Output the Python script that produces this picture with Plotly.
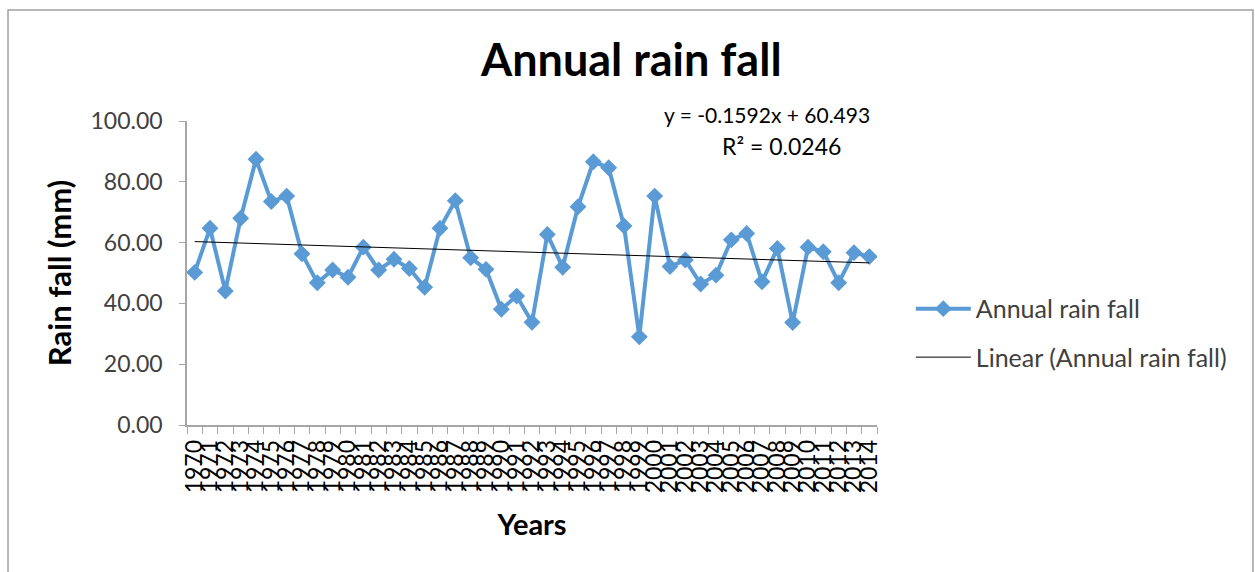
import plotly.graph_objects as go

# Annual rainfall record, 1970-2014
years = [str(y) for y in range(1970, 2015)]
rain_mm = [
    50.2, 64.7, 44.1, 68.0, 87.4, 73.5, 75.3, 56.3, 46.8, 51.0,
    48.6, 58.5, 51.0, 54.5, 51.5, 45.3, 64.7, 73.8, 55.0, 51.2,
    38.1, 42.4, 33.8, 62.7, 51.9, 71.8, 86.6, 84.6, 65.5, 29.0,
    75.3, 52.1, 54.3, 46.4, 49.3, 60.9, 63.0, 47.1, 58.1, 33.7,
    58.5, 57.0, 46.8, 56.7, 55.4,
]

# Linear trend as stated on the chart (x = 1 .. n)
slope = -0.1592
intercept = 60.493
r_squared = 0.0246
trend = [slope * (i + 1) + intercept for i in range(len(years))]

y_ticks = [0, 20, 40, 60, 80, 100]

FONT = "Lato"
BLUE = "#5B9BD5"
GREY_TEXT = "#404040"
AXIS_GREY = "#A6A6A6"

fig = go.Figure()

fig.add_trace(go.Scatter(
    x=years, y=rain_mm, name="Annual rain fall",
    mode="lines+markers",
    line=dict(color=BLUE, width=4),
    marker=dict(symbol="diamond", size=13, color=BLUE),
    legendgroup="a",
))

fig.add_trace(go.Scatter(
    x=years, y=trend, name="Linear (Annual rain fall)",
    mode="lines",
    line=dict(color="#000000", width=1),
    legendgroup="b",
))

fig.update_layout(
    width=1255, height=572,
    margin=dict(l=187, r=378, t=121, b=147),
    paper_bgcolor="white", plot_bgcolor="white",
    font=dict(family=FONT, color=GREY_TEXT, size=23),
    title=dict(
        text="<b>Annual rain fall</b>",
        font=dict(family=FONT, size=45, color="#000000"),
        x=0.503, xanchor="center", y=0.895, yanchor="middle",
    ),
    showlegend=True,
    legend=dict(
        x=1.049, xanchor="left", y=0.303, yanchor="middle",
        font=dict(family=FONT, size=25, color=GREY_TEXT),
        itemwidth=55, tracegroupgap=13, traceorder="grouped",
        bgcolor="rgba(0,0,0,0)",
    ),
    xaxis=dict(
        type="category",
        range=[-0.5, len(years) - 0.5],
        tickmode="array", tickvals=years, ticktext=years,
        tickson="boundaries",
        tickangle=-90,
        ticks="outside", ticklen=7, tickcolor=AXIS_GREY,
        ticklabelstandoff=4,
        showline=True, linecolor=AXIS_GREY, linewidth=1.5,
        showgrid=False, zeroline=False,
        tickfont=dict(family=FONT, size=23, color="#000000"),
        title=dict(text="<b>Years</b>", font=dict(family=FONT, size=29, color="#000000"), standoff=22),
    ),
    yaxis=dict(
        range=[0, 100],
        tickmode="array", tickvals=y_ticks,
        ticktext=[f"{v:.2f}" for v in y_ticks],
        ticks="outside", ticklen=6, tickcolor=AXIS_GREY,
        ticklabelstandoff=12,
        showline=True, linecolor=AXIS_GREY, linewidth=1.5,
        showgrid=False, zeroline=False,
        tickfont=dict(family=FONT, size=23, color=GREY_TEXT),
        title=dict(text="<b>Rain fall (mm)</b>", font=dict(family=FONT, size=31, color="#000000"), standoff=10),
    ),
)

# Trend-line equation and fit quality
fig.add_annotation(
    text=f"y = {slope:.4f}x + {intercept:.3f}",
    xref="paper", yref="paper", x=0.841, y=1.022,
    xanchor="center", yanchor="middle", showarrow=False,
    font=dict(family=FONT, size=21, color="#000000"),
)
fig.add_annotation(
    text=f"R² = {r_squared:.4f}",
    xref="paper", yref="paper", x=0.862, y=0.917,
    xanchor="center", yanchor="middle", showarrow=False,
    font=dict(family=FONT, size=23, color="#000000"),
)

# Chart frame
fig.add_shape(
    type="rect", xref="paper", yref="paper",
    x0=-0.2594, x1=1.5449, y0=-0.52, y1=1.365,
    line=dict(color="#A0A0A0", width=1.5), fillcolor="rgba(0,0,0,0)",
    layer="below",
)

fig.write_html("out.html")
